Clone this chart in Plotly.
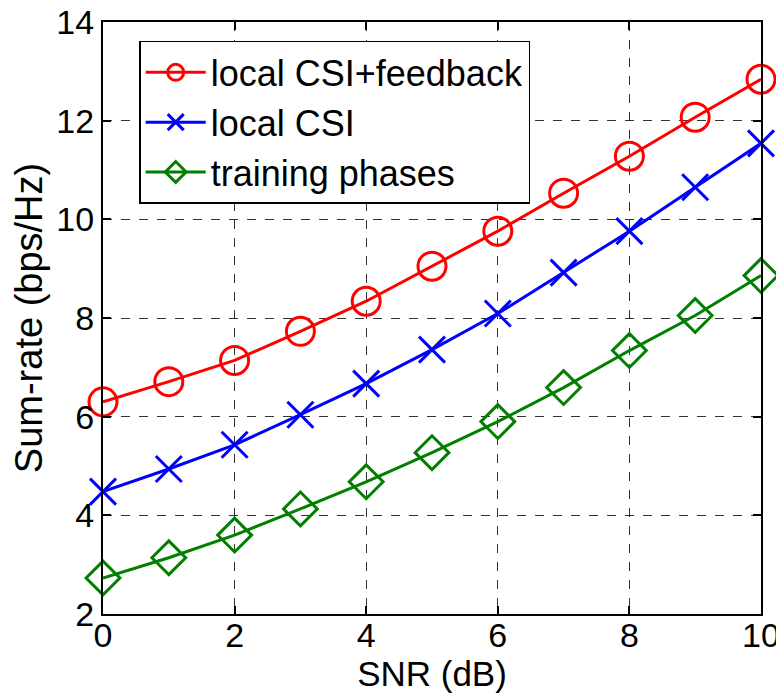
import plotly.graph_objects as go

snr = [0, 1, 2, 3, 4, 5, 6, 7, 8, 9, 10]
feedback = [6.30, 6.71, 7.14, 7.73, 8.34, 9.05, 9.76, 10.53, 11.28, 12.07, 12.84]
local_csi = [4.48, 4.94, 5.43, 6.04, 6.67, 7.36, 8.09, 8.92, 9.76, 10.65, 11.54]
training = [2.73, 3.14, 3.60, 4.13, 4.68, 5.27, 5.90, 6.59, 7.34, 8.05, 8.86]
x_ticks = [0, 2, 4, 6, 8, 10]
y_ticks = [2, 4, 6, 8, 10, 12, 14]

FONT = "Liberation Sans, Arial, Helvetica"

fig = go.Figure()
fig.add_trace(go.Scatter(x=snr, y=feedback, mode="lines+markers", name="local CSI+feedback",
                         line=dict(color="#ff0000", width=3), cliponaxis=False,
                         marker=dict(symbol="circle-open", size=28, color="#ff0000", line=dict(width=3))))
fig.add_trace(go.Scatter(x=snr, y=local_csi, mode="lines+markers", name="local CSI",
                         line=dict(color="#0000ff", width=3), cliponaxis=False,
                         marker=dict(symbol="x-thin-open", size=26, color="#0000ff", line=dict(width=3, color="#0000ff"))))
fig.add_trace(go.Scatter(x=snr, y=training, mode="lines+markers", name="training phases",
                         line=dict(color="#007f00", width=3), cliponaxis=False,
                         marker=dict(symbol="diamond-open", size=26, color="#007f00", line=dict(width=3))))

axis_common = dict(showline=True, linecolor="black", linewidth=2, mirror="ticks",
                   ticks="inside", ticklen=8, tickwidth=1.5, tickcolor="black",
                   showgrid=True, gridcolor="rgba(0,0,0,0.8)", gridwidth=1, griddash="dash",
                   zeroline=False, automargin=False, ticklabeloverflow="allow",
                   tickfont=dict(family=FONT, size=34, color="black"))

fig.update_xaxes(range=[0, 10], tickvals=x_ticks, ticklabelstandoff=-10,
                 title=dict(text="SNR (dB)", font=dict(family=FONT, size=35, color="black"), standoff=3),
                 **axis_common)
fig.update_yaxes(range=[2, 14], tickvals=y_ticks, ticklabelstandoff=0,
                 title=dict(text="Sum-rate (bps/Hz)", font=dict(family=FONT, size=38, color="black"), standoff=10),
                 **axis_common)

fig.update_layout(
    width=776, height=690,
    margin=dict(l=95, r=23, t=14, b=84),
    plot_bgcolor="white", paper_bgcolor="white",
    showlegend=True,
    legend=dict(x=0.055, y=0.968, xanchor="left", yanchor="top",
                bgcolor="white", bordercolor="black", borderwidth=1.5,
                font=dict(family=FONT, size=36, color="black"),
                tracegroupgap=0, itemwidth=60),
)

fig.write_html("out.html")
